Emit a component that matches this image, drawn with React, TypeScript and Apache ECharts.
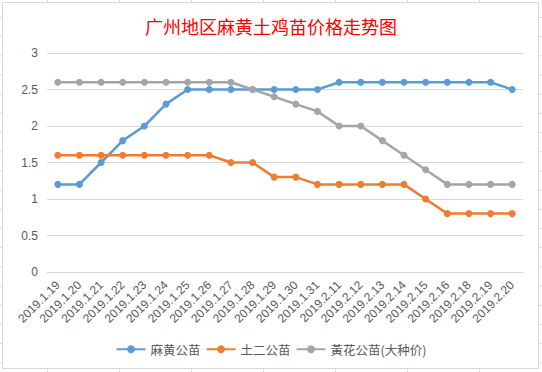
import React, { useEffect, useRef } from "react";
import * as echarts from "echarts";

const title = "广州地区麻黄土鸡苗价格走势图";
const categories = [
  "2019.1.19", "2019.1.20", "2019.1.21", "2019.1.22", "2019.1.23", "2019.1.24",
  "2019.1.25", "2019.1.26", "2019.1.27", "2019.1.28", "2019.1.29", "2019.1.30",
  "2019.1.31", "2019.2.11", "2019.2.12", "2019.2.13", "2019.2.14", "2019.2.15",
  "2019.2.16", "2019.2.18", "2019.2.19", "2019.2.20",
];
const seriesNames = ["麻黄公苗", "土二公苗", "黃花公苗(大种价)"];
const mahuang = [1.2, 1.2, 1.5, 1.8, 2.0, 2.3, 2.5, 2.5, 2.5, 2.5, 2.5, 2.5, 2.5, 2.6, 2.6, 2.6, 2.6, 2.6, 2.6, 2.6, 2.6, 2.5];
const tuer = [1.6, 1.6, 1.6, 1.6, 1.6, 1.6, 1.6, 1.6, 1.5, 1.5, 1.3, 1.3, 1.2, 1.2, 1.2, 1.2, 1.2, 1.0, 0.8, 0.8, 0.8, 0.8];
const huanghua = [2.6, 2.6, 2.6, 2.6, 2.6, 2.6, 2.6, 2.6, 2.6, 2.5, 2.4, 2.3, 2.2, 2.0, 2.0, 1.8, 1.6, 1.4, 1.2, 1.2, 1.2, 1.2];
const colors = ["#5B9BD5", "#ED7D31", "#A5A5A5"];

export default function App() {
  const ref = useRef<HTMLDivElement>(null);
  useEffect(() => {
    if (!ref.current) return;
    const chart = echarts.init(ref.current, undefined, { renderer: "svg" });
    const dataSets = [mahuang, tuer, huanghua];
    chart.setOption({
      animation: false,
      title: {
        text: title,
        left: "center",
        top: 12,
        textStyle: {
          color: "#FF0000",
          fontSize: 18,
          fontWeight: "normal",
          fontFamily: "Noto Sans CJK SC",
        },
      },
      grid: { left: 47, right: 19, top: 53, bottom: 100 },
      legend: {
        left: "center",
        top: 338,
        itemWidth: 29,
        itemHeight: 10,
        itemGap: 5,
        textStyle: { color: "#595959", fontSize: 12.5, fontFamily: "Noto Sans CJK SC" },
        data: seriesNames,
      },
      xAxis: {
        type: "category",
        data: categories,
        boundaryGap: true,
        axisLine: { lineStyle: { color: "#D9D9D9" } },
        axisTick: { show: false },
        axisLabel: {
          rotate: 45,
          interval: 0,
          color: "#595959",
          fontSize: 12,
          fontFamily: "Liberation Sans",
          margin: 11,
        },
      },
      yAxis: {
        type: "value",
        min: 0,
        max: 3,
        interval: 0.5,
        axisLine: { show: false },
        axisTick: { show: false },
        axisLabel: { color: "#595959", fontSize: 12, fontFamily: "Liberation Sans", margin: 9 },
        splitLine: { lineStyle: { color: "#D9D9D9" } },
      },
      series: seriesNames.map((name, i) => ({
        name,
        type: "line",
        data: dataSets[i],
        symbol: "circle",
        symbolSize: 7,
        color: colors[i],
        lineStyle: { width: 2.5, color: colors[i] },
        itemStyle: { color: colors[i] },
      })),
    });
    return () => chart.dispose();
  }, []);

  return (
    <div
      style={{
        position: "fixed",
        left: 0,
        top: 0,
        width: 542,
        height: 372,
        backgroundColor: "#ffffff",
        backgroundImage:
          "linear-gradient(to right, #D9D9D9 1px, transparent 1px), linear-gradient(to bottom, #D9D9D9 1px, transparent 1px)",
        backgroundSize: "72px 19.2px",
        backgroundPosition: "47px 17px",
      }}
    >
      <div
        style={{
          position: "absolute",
          left: 2,
          top: 2,
          width: 535,
          height: 365,
          background: "#ffffff",
          border: "1px solid #D9D9D9",
        }}
      />
      <div ref={ref} style={{ position: "absolute", left: 0, top: 0, width: 542, height: 372 }} />
    </div>
  );
}
